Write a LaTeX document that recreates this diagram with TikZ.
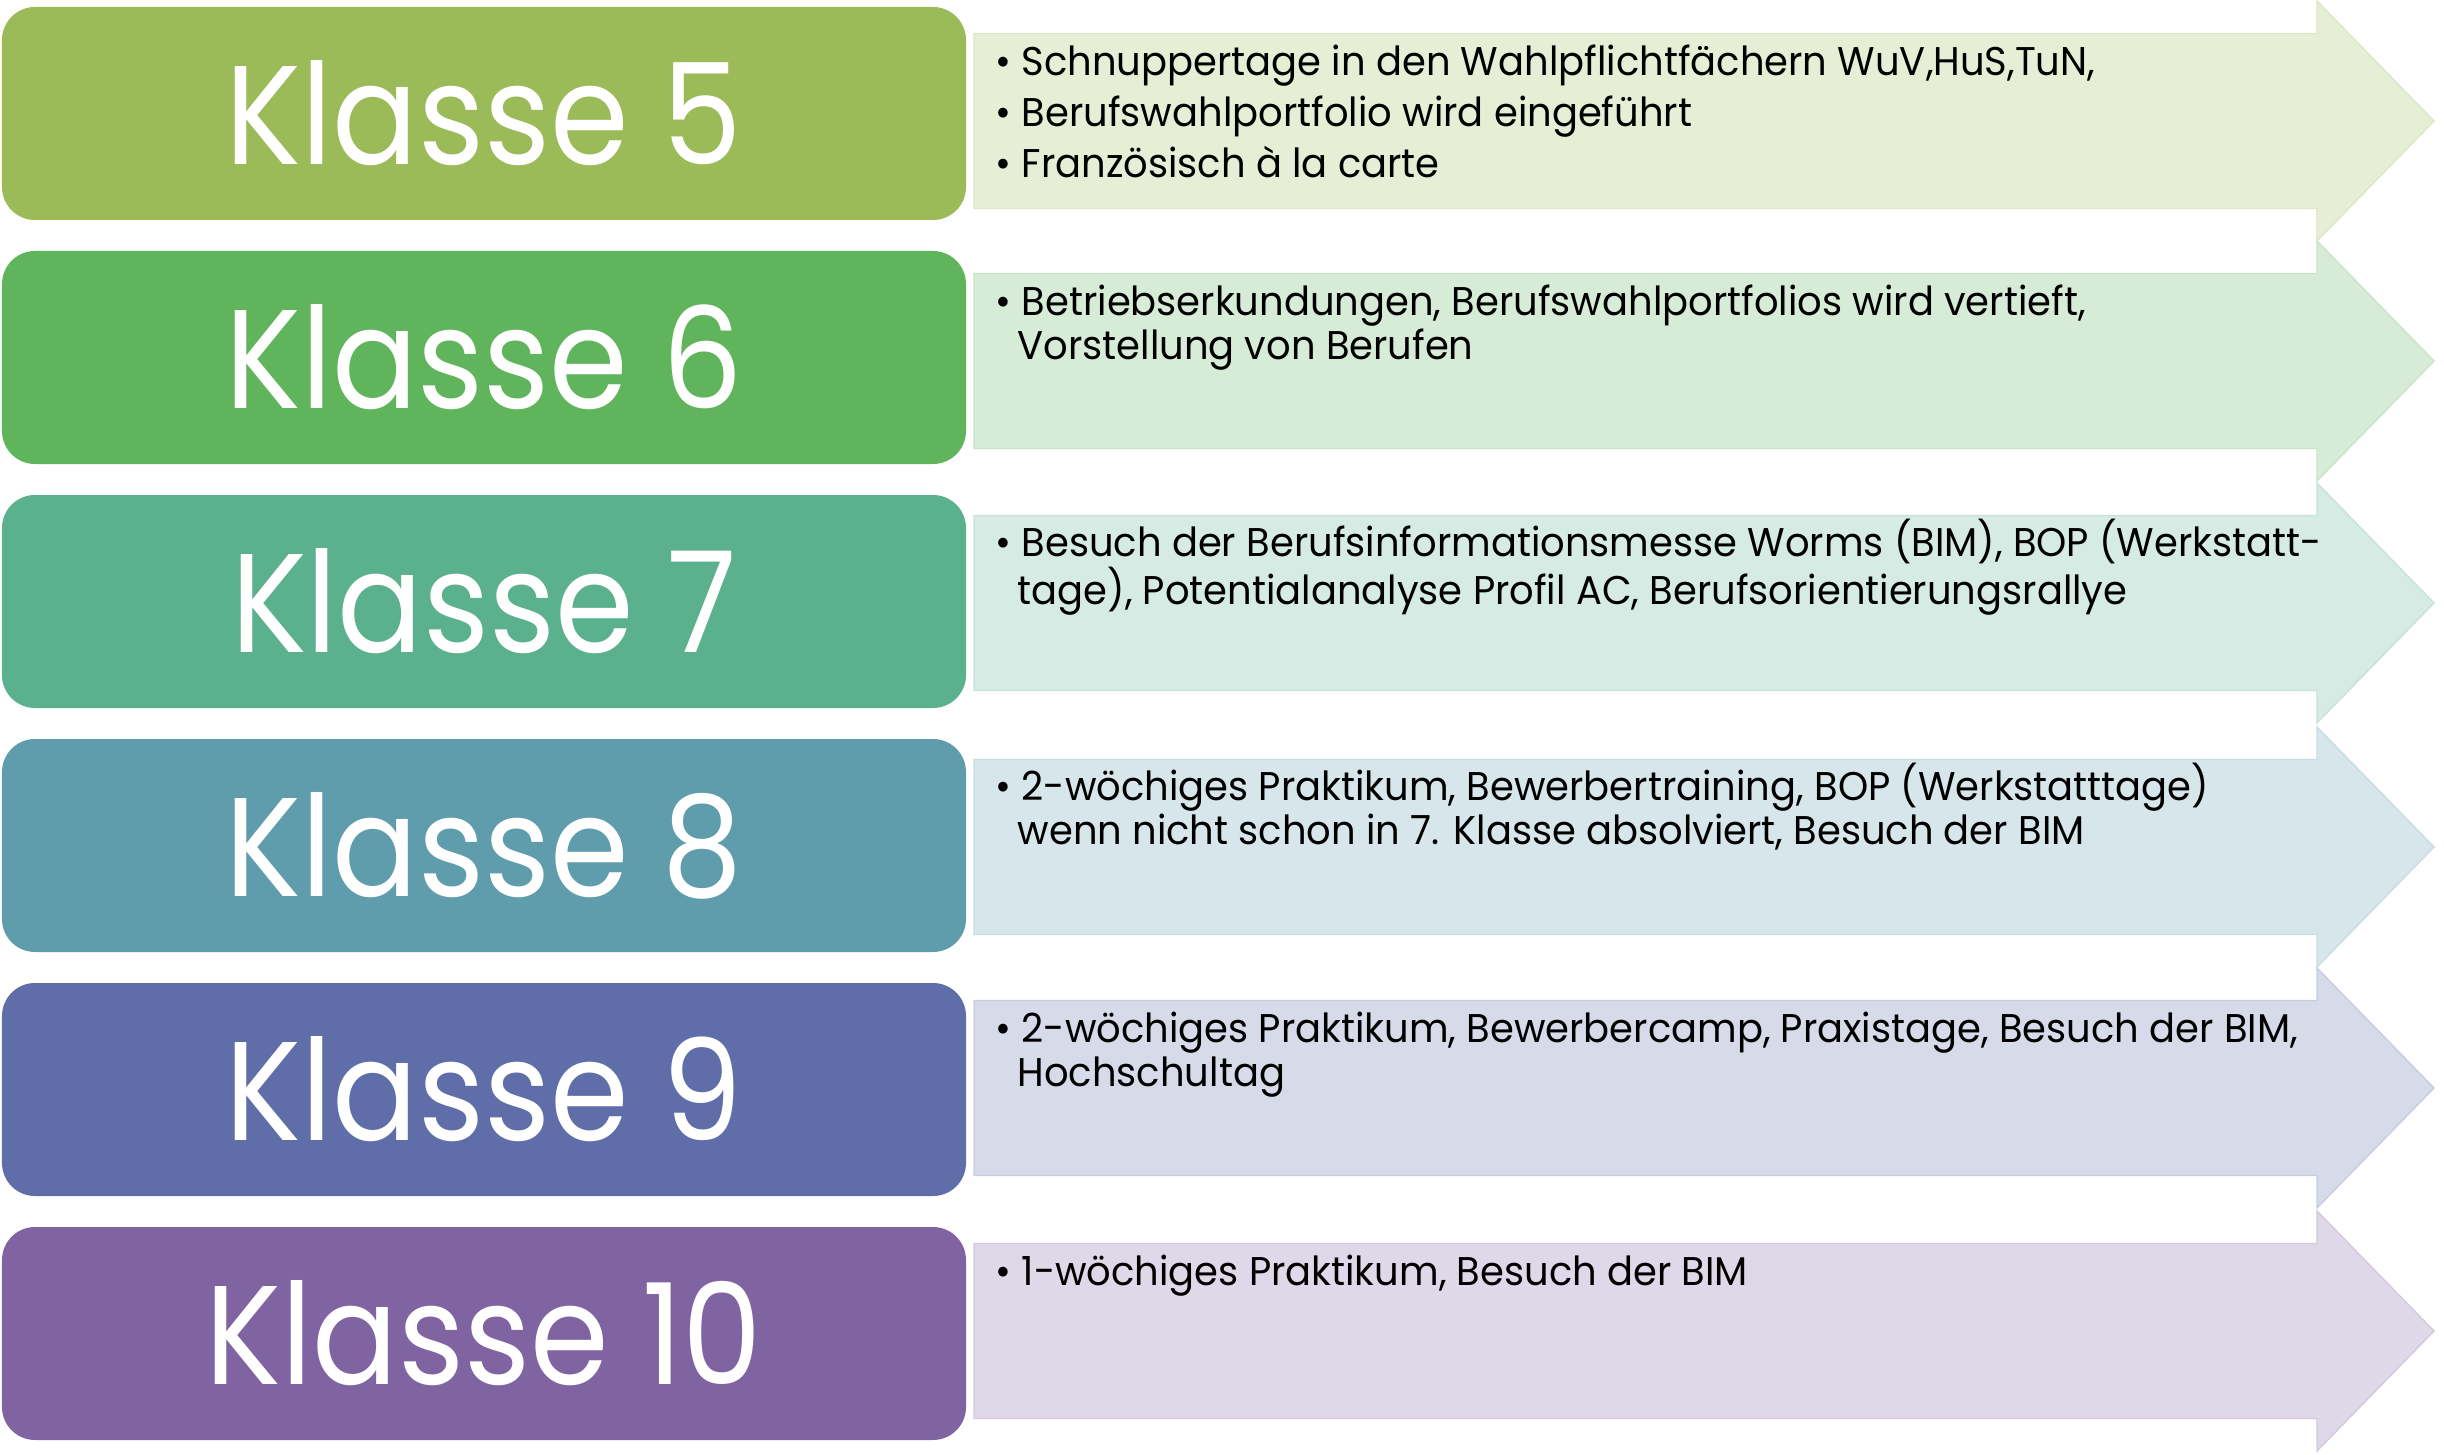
\documentclass[tikz,border=0pt]{standalone}
\usepackage{fontspec}
\setmainfont{Poppins}[FakeStretch=0.96]
\newfontfamily\klassenschrift{Poppins}[FakeStretch=0.9]
\usepackage{tikz}
\definecolor{Stufe-5}{RGB}{155,187,89}
\definecolor{Stufe-6}{RGB}{96,180,92}
\definecolor{Stufe-7}{RGB}{91,176,142}
\definecolor{Stufe-8}{RGB}{95,157,173}
\definecolor{Stufe-9}{RGB}{95,109,168}
\definecolor{Stufe-10}{RGB}{128,100,162}
\newcommand{\weiter}{\hspace*{0.22cm}}

\begin{document}
\begin{tikzpicture}[x=1cm,y=-1cm,
  klasse/.style={rounded corners=0.33cm,fill=#1,minimum width=9.64cm,minimum height=2.13cm,inner sep=0pt,text=white,font=\klassenschrift\fontsize{40}{48}\selectfont},
  pfeil/.style={fill=#1!25!white,draw=#1!35!white,thin},
  info/.style={anchor=north west,align=left,inner sep=0pt,font=\fontsize{11.4}{12.6}\selectfont}]
\useasboundingbox (0,0) rectangle (24.44,14.55);

%Klasse 5
\filldraw[pfeil=Stufe-5] (9.74,0.335) -- (23.17,0.335) -- (23.17,0.01) -- (24.34,1.21) -- (23.17,2.41) -- (23.17,2.085) -- (9.74,2.085) -- cycle;
\node[klasse=Stufe-5] (k5) at (4.84,1.135) {Klasse 5};
\node[info] (t5) at (9.95,0.44) {\textbullet\ Schnuppertage in den Wahlpflichtfächern WuV,HuS,TuN,\\[1.9pt]
  \textbullet\ Berufswahlportfolio wird eingeführt\\[1.9pt]
  \textbullet\ Französisch à la carte};

%Klasse 6
\filldraw[pfeil=Stufe-6] (9.74,2.735) -- (23.17,2.735) -- (23.17,2.41) -- (24.34,3.61) -- (23.17,4.81) -- (23.17,4.485) -- (9.74,4.485) -- cycle;
\node[klasse=Stufe-6] (k6) at (4.84,3.575) {Klasse 6};
\node[info] (t6) at (9.95,2.84) {\textbullet\ Betriebserkundungen, Berufswahlportfolios wird vertieft,\\
  \weiter Vorstellung von Berufen};

%Klasse 7
\filldraw[pfeil=Stufe-7] (9.74,5.155) -- (23.17,5.155) -- (23.17,4.83) -- (24.34,6.03) -- (23.17,7.23) -- (23.17,6.905) -- (9.74,6.905) -- cycle;
\node[klasse=Stufe-7] (k7) at (4.84,6.015) {Klasse 7};
\node[info] (t7) at (9.95,5.18) {\textbullet\ Besuch der Berufsinformationsmesse Worms (BIM), BOP (Werkstatt-\\
  \weiter tage), Potentialanalyse Profil AC, Berufsorientierungsrallye};

%Klasse 8
\filldraw[pfeil=Stufe-8] (9.74,7.595) -- (23.17,7.595) -- (23.17,7.27) -- (24.34,8.47) -- (23.17,9.67) -- (23.17,9.345) -- (9.74,9.345) -- cycle;
\node[klasse=Stufe-8] (k8) at (4.84,8.455) {Klasse 8};
\node[info] (t8) at (9.95,7.62) {\textbullet\ 2-wöchiges Praktikum, Bewerbertraining, BOP (Werkstatttage)\\
  \weiter wenn nicht schon in 7. Klasse absolviert, Besuch der BIM};

%Klasse 9
\filldraw[pfeil=Stufe-9] (9.74,10.005) -- (23.17,10.005) -- (23.17,9.68) -- (24.34,10.88) -- (23.17,12.08) -- (23.17,11.755) -- (9.74,11.755) -- cycle;
\node[klasse=Stufe-9] (k9) at (4.84,10.895) {Klasse 9};
\node[info] (t9) at (9.95,10.11) {\textbullet\ 2-wöchiges Praktikum, Bewerbercamp, Praxistage, Besuch der BIM,\\
  \weiter Hochschultag};

%Klasse 10
\filldraw[pfeil=Stufe-10] (9.74,12.435) -- (23.17,12.435) -- (23.17,12.11) -- (24.34,13.31) -- (23.17,14.51) -- (23.17,14.185) -- (9.74,14.185) -- cycle;
\node[klasse=Stufe-10] (k10) at (4.84,13.335) {Klasse 10};
\node[info] (t10) at (9.95,12.54) {\textbullet\ 1-wöchiges Praktikum, Besuch der BIM};
\end{tikzpicture}
\end{document}
